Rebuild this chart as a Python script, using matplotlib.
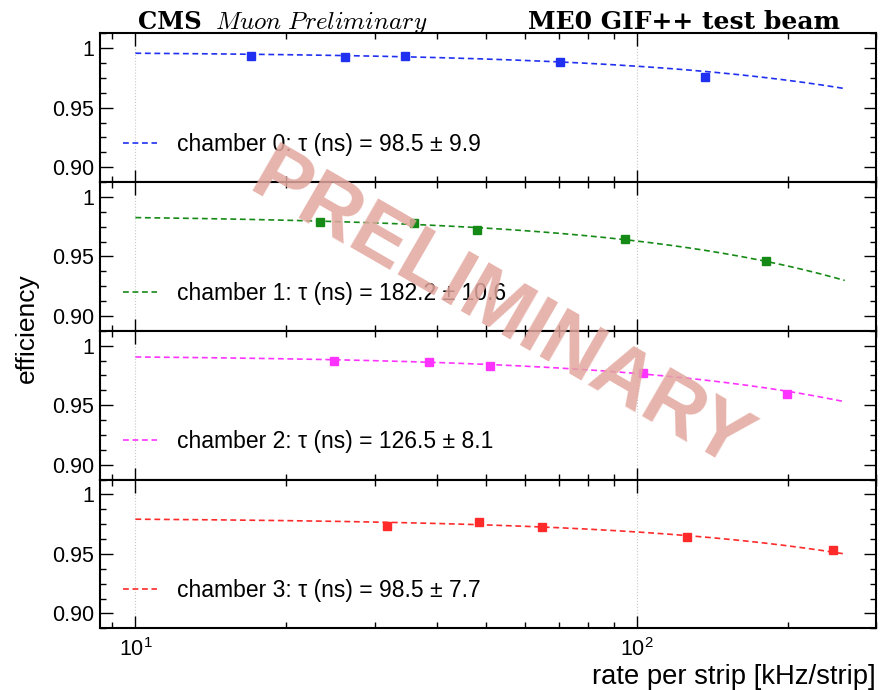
import matplotlib
matplotlib.use("Agg")
import matplotlib.pyplot as plt
import numpy as np
from matplotlib.ticker import FixedLocator, MultipleLocator, LogLocator, NullFormatter

plt.rcParams["font.family"] = ["Liberation Sans", "DejaVu Sans"]

# values
chambers = ["chamber 0", "chamber 1", "chamber 2", "chamber 3"]
colors = ["#2030f0", "#168a16", "#ff33ff", "#ff2a2a"]

rate_ch0 = [17.0, 26.2, 34.5, 70.3, 136.8]
eff_ch0 = [0.9938, 0.9930, 0.9936, 0.9886, 0.9758]
rate_ch1 = [23.3, 35.9, 48.0, 94.8, 181.0]
eff_ch1 = [0.9788, 0.9777, 0.9721, 0.9644, 0.9465]
rate_ch2 = [24.9, 38.5, 50.9, 103.0, 199.6]
eff_ch2 = [0.9875, 0.9867, 0.9833, 0.9769, 0.9592]
rate_ch3 = [31.7, 48.5, 64.6, 125.9, 246.0]
eff_ch3 = [0.9736, 0.9769, 0.9725, 0.9639, 0.9533]

# fit results: eff = eff0 / (1 + k * rate), k proportional to tau
tau_ns = [98.5, 182.2, 126.5, 98.5]
tau_err = [9.9, 10.6, 8.1, 7.7]
eff_zero = [0.9970, 0.9849, 0.9921, 0.9804]
FIT_RATE_SCALE = 1.25e-6   # (kHz * ns) -> dimensionless, matches drawn curves
fit_range = (10.0, 260.0)

rates = [rate_ch0, rate_ch1, rate_ch2, rate_ch3]
effs = [eff_ch0, eff_ch1, eff_ch2, eff_ch3]

ytick_vals = [0.90, 0.95, 1.0]
ytick_labels = ["0.90", "0.95", "1"]


def fit_curve(x, eff0, tau):
    return eff0 / (1.0 + FIT_RATE_SCALE * tau * x)


fig, axes = plt.subplots(4, 1, sharex=True, figsize=(8.82, 6.90), dpi=100)
fig.subplots_adjust(left=0.1134, right=0.993, top=0.9517, bottom=0.0894, hspace=0)

x_fit = np.logspace(np.log10(fit_range[0]), np.log10(fit_range[1]), 200)

for i, ax in enumerate(axes):
    c = colors[i]
    ax.plot(x_fit, fit_curve(x_fit, eff_zero[i], tau_ns[i]), ls=(0, (3.5, 2.2)),
            lw=1.2, color=c, label=f"{chambers[i]}: τ (ns) = {tau_ns[i]:.1f} ± {tau_err[i]:.1f}")
    ax.plot(rates[i], effs[i], ls="none", marker="s", ms=5.5, color=c, mec=c)

    ax.set_xscale("log")
    ax.set_xlim(8.5, 300)
    ax.set_ylim(0.8875, 1.0125)
    ax.yaxis.set_major_locator(FixedLocator(ytick_vals))
    ax.set_yticklabels(ytick_labels)
    ax.yaxis.set_minor_locator(MultipleLocator(0.0125))
    ax.xaxis.set_minor_locator(LogLocator(base=10, subs=np.arange(2, 10)))
    ax.xaxis.set_minor_formatter(NullFormatter())
    ax.tick_params(which="both", direction="in", top=True, right=True, labelsize=15.5, width=1)
    ax.tick_params(which="major", length=9, pad=4.5)
    ax.tick_params(which="minor", length=4.5)
    ax.tick_params(axis="x", pad=7)
    ax.grid(axis="x", which="major", ls=":", lw=0.8, color="#c8c8c8")
    for sp in ax.spines.values():
        sp.set_linewidth(1.5)

    ax.legend(loc="center left", bbox_to_anchor=(0.029, 0.253), frameon=False,
              fontsize=16.5, handlelength=1.49, handletextpad=0.87,
              borderpad=0, borderaxespad=0)

fig.text(138 / 882, 0.958, "CMS", fontsize=17.5, family="DejaVu Serif",
         fontweight="bold", ha="left", va="baseline")
fig.text(215 / 882, 0.958, r"$\mathit{Muon\ Preliminary}$",
         fontsize=18, math_fontfamily="cm", ha="left", va="baseline")
fig.text(840 / 882, 0.958, "ME0 GIF++ test beam", fontsize=18, family="DejaVu Serif",
         fontweight="bold", ha="right", va="baseline")

fig.text(0.030, 0.525, "efficiency", rotation=90, fontsize=19, ha="center", va="center")
fig.text(0.993, 0.009, "rate per strip [kHz/strip]", fontsize=19.7, ha="right", va="baseline")

# watermark drawn over everything
fig.text(0.566, 0.546, "PRELIMINARY", fontsize=59, fontweight="bold", rotation=-30,
         color=(0.885, 0.654, 0.618), alpha=0.85, ha="center", va="center", zorder=10)

fig.savefig("out.png", dpi=100)
